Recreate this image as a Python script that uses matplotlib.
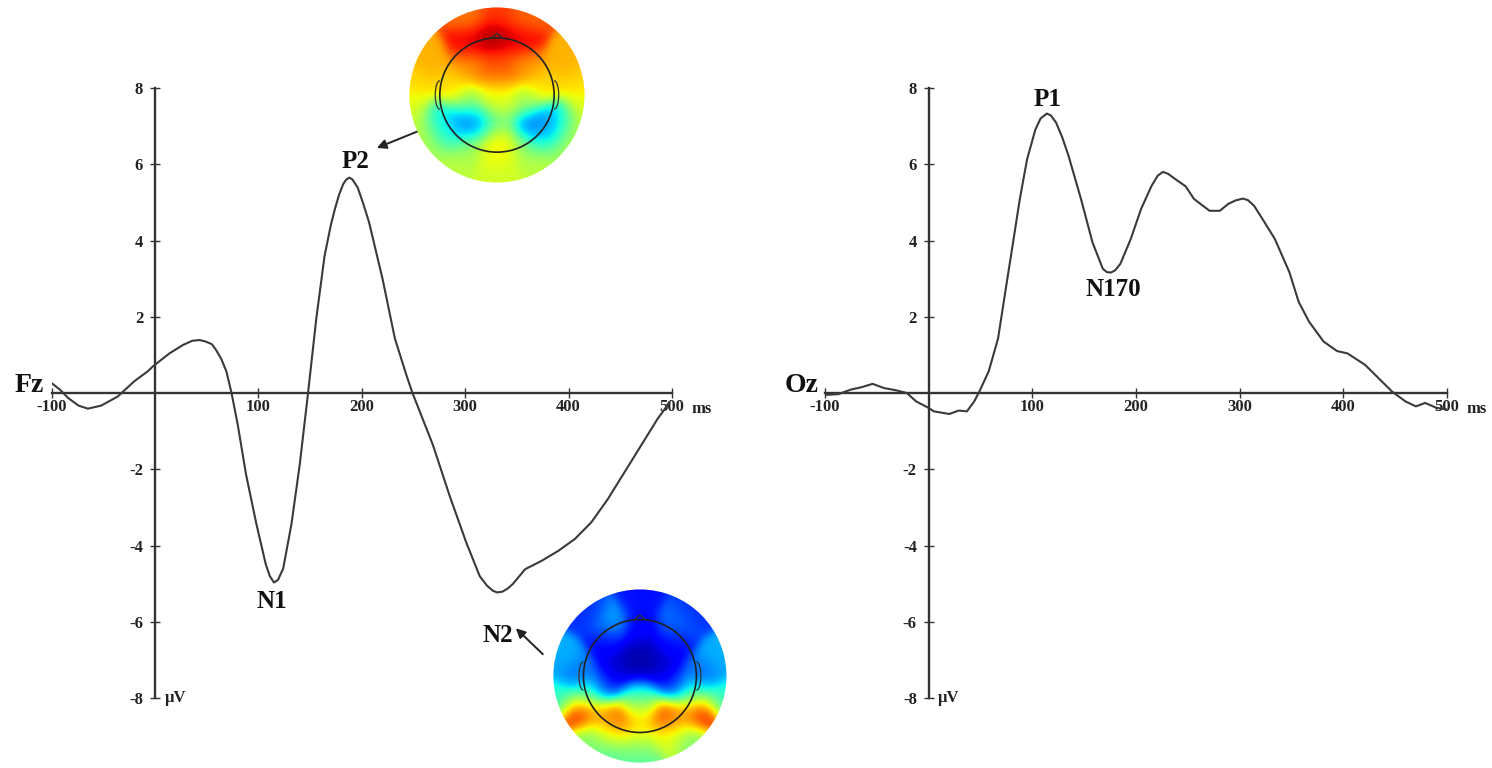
import numpy as np
import matplotlib.pyplot as plt
from matplotlib.patches import Circle, Arc

plt.rcParams['font.family'] = ['Liberation Serif', 'DejaVu Serif']
plt.rcParams['font.weight'] = 'bold'

# Fz waveform (ms, uV)
fz_t = [-100, -92, -84, -74, -65, -52, -36, -20, -7, -2, 14, 27, 36, 43, 49, 55, 59, 64, 69, 74, 80,
        88, 98, 107, 111, 115, 119, 124, 132, 140, 148, 156, 164, 170, 174, 178, 182, 185, 188, 191,
        196, 201, 207, 220, 232, 243, 249, 265, 269, 285, 301, 314, 321, 327, 331, 336, 341, 346,
        358, 374, 390, 406, 422, 438, 454, 470, 486, 493, 497]
fz_v = [0.26, 0.09, -0.13, -0.33, -0.41, -0.33, -0.09, 0.31, 0.57, 0.70, 1.04, 1.26, 1.37, 1.39, 1.35,
        1.28, 1.13, 0.9, 0.57, 0.0, -0.83, -2.13, -3.43, -4.48, -4.8, -4.97, -4.9, -4.6, -3.43,
        -1.87, 0.0, 1.96, 3.6, 4.4, 4.83, 5.2, 5.48, 5.6, 5.65, 5.6, 5.39, 5.0, 4.48, 3.0, 1.43, 0.48,
        0.0, -1.1, -1.38, -2.7, -3.92, -4.8, -5.05, -5.19, -5.23, -5.21, -5.13, -5.01, -4.62, -4.4,
        -4.14, -3.83, -3.39, -2.78, -2.08, -1.38, -0.68, -0.42, -0.25]

# Oz waveform
oz_t = [-100, -87, -75, -65, -54, -43, -31, -21, -12, 0, 5, 20, 29, 37, 44, 49, 58, 67, 75, 82, 88,
        95, 103, 108, 114, 118, 123, 129, 135, 147, 158, 168, 172, 176, 180, 185, 195, 205, 215, 221,
        226, 231, 238, 248, 256, 271, 281, 289, 296, 303, 308, 314, 324, 334, 348, 357, 367, 381, 394,
        404, 421, 434, 447, 460, 470, 479, 490, 500]
oz_v = [-0.05, -0.03, 0.09, 0.15, 0.24, 0.13, 0.07, 0.0, -0.22, -0.39, -0.48, -0.55, -0.46, -0.48,
        -0.22, 0.04, 0.57, 1.43, 2.83, 4.04, 5.09, 6.13, 6.91, 7.2, 7.33, 7.28, 7.09, 6.7, 6.22, 5.09,
        3.96, 3.26, 3.17, 3.16, 3.22, 3.39, 4.04, 4.83, 5.43, 5.7, 5.8, 5.75, 5.61, 5.42, 5.09, 4.78,
        4.78, 4.96, 5.05, 5.1, 5.06, 4.91, 4.48, 4.04, 3.17, 2.39, 1.87, 1.35, 1.1, 1.04, 0.74, 0.39,
        0.04, -0.22, -0.35, -0.26, -0.39, -0.43]

xticks = [-100, 100, 200, 300, 400, 500]
yticks = [-8, -6, -4, -2, 2, 4, 6, 8]

# topographic maps: electrode x, y (head radius = 1) and relative amplitude (0..1 on jet)
p2_x = [0, -0.5, 0.5, -0.1, -0.5, 0.4, 0, 0, -0.5, 0.5, -1.2, 1.2, -1.45, 1.45, -0.8, 0.8,
        0, 0, -0.5, 0.5, -0.55, -0.35, 0.6, 0.85, -1.0, 1.05, -0.85, 0.85, 0, 0, 0, -0.45,
        0.45, 0, -0.8, 0.8, -1.35, 1.35, -1.5, 1.5, -1.2, 1.2]
p2_y = [1.4, 1.35, 1.35, 1.0, 0.9, 0.95, 0.55, 0.3, 0.5, 0.5, 0.6, 0.6, 0.2, 0.2, 0.15, 0.15,
        0, -0.15, -0.15, -0.15, -0.5, -0.5, -0.55, -0.55, -0.45, -0.45, -0.75, -0.8, -0.5, -0.85,
        -1.05, -0.9, -0.9, -1.4, -1.2, -1.2, -0.6, -0.6, -0.2, -0.2, -0.95, -0.95]
p2_val = [0.85, 0.78, 0.8, 0.97, 0.92, 0.92, 0.85, 0.78, 0.75, 0.75, 0.72, 0.72, 0.68, 0.68,
          0.68, 0.68, 0.65, 0.6, 0.55, 0.55, 0.2, 0.28, 0.2, 0.24, 0.35, 0.35, 0.4, 0.4, 0.48,
          0.7, 0.63, 0.55, 0.55, 0.6, 0.58, 0.58, 0.58, 0.58, 0.62, 0.62, 0.56, 0.56]

n2_x = [0, 0, -0.35, 0.35, 0, -0.6, 0.6, -0.53, 0.65, 0, -0.9, 0.9, -1.3, 1.35, -1.1, 1.1,
        -0.6, 0.6, 0, 0, -1.08, 1.08, -0.4, 0.45, 0, -0.7, 0.75, 0, -0.5, 0.5, 0, -0.9, 0.9,
        -1.4, 1.4, 0, -0.55, -0.95, 0.95]
n2_y = [0.15, 0.4, 0.1, 0.1, 0.85, 0.6, 0.6, 0.94, 0.91, 1.35, 1.1, 1.1, 0.3, 0.3, 0, 0,
        -0.2, -0.2, -0.3, -0.45, -0.65, -0.65, -0.75, -0.7, -0.62, -0.7, -0.7, -0.95, -1.05,
        -1.05, -1.3, -1.1, -1.1, -0.4, -0.4, -1.5, -1.4, -0.35, -0.35]
n2_val = [0.02, 0.05, 0.07, 0.07, 0.12, 0.12, 0.12, 0.3, 0.25, 0.14, 0.17, 0.17, 0.3, 0.3,
          0.22, 0.22, 0.18, 0.18, 0.3, 0.5, 0.93, 0.95, 0.85, 0.88, 0.7, 0.72, 0.72, 0.65, 0.62,
          0.62, 0.55, 0.5, 0.5, 0.4, 0.4, 0.42, 0.45, 0.45, 0.45]

fig = plt.figure(figsize=(14.92, 7.68), dpi=100)
ax1 = fig.add_axes([0.0346, 0.0911, 0.4158, 0.7943])
ax2 = fig.add_axes([0.5529, 0.0911, 0.4169, 0.7943])

for ax, t, v, name in [(ax1, fz_t, fz_v, 'Fz'), (ax2, oz_t, oz_v, 'Oz')]:
    ax.plot(t, v, color='#3a3a3a', lw=1.5, zorder=3, solid_joinstyle='round')
    ax.set_xlim(-100, 500)
    ax.set_ylim(-8, 8)
    ax.spines['left'].set_position(('data', 0))
    ax.spines['bottom'].set_position(('data', 0))
    ax.spines['top'].set_visible(False)
    ax.spines['right'].set_visible(False)
    for s in ['left', 'bottom']:
        ax.spines[s].set_linewidth(1.7)
        ax.spines[s].set_color('#333333')
    ax.set_xticks(xticks)
    ax.set_xticklabels([str(x) for x in xticks])
    ax.set_yticks(yticks)
    ax.set_yticklabels([str(y) for y in yticks])
    ax.tick_params(direction='inout', length=7, width=1, color='#333333',
                   labelsize=12, pad=1, labelcolor='#222222')
    ax.tick_params(axis='y', pad=5)
    for lab in ax.get_xticklabels() + ax.get_yticklabels():
        lab.set_fontweight('bold')
    ax.patch.set_alpha(0)
    ax.text(519, -0.2, 'ms', fontsize=12, fontweight='bold', ha='left', va='top',
            color='#222222', clip_on=False)
    ax.text(9, -8, 'μV', fontsize=12, fontweight='bold', ha='left', va='center',
            color='#222222', clip_on=False)
    ax.text(-122, 0.2, name, fontsize=20, fontweight='bold', ha='center', va='center',
            color='#111111', clip_on=False)

lab_kw = dict(fontsize=18, fontweight='bold', ha='center', va='center', color='#111111')
ax1.text(194, 6.08, 'P2', **lab_kw)
ax1.text(113, -5.47, 'N1', **lab_kw)
ax1.text(332, -6.37, 'N2', **lab_kw)
ax2.text(115, 7.7, 'P1', **lab_kw)
ax2.text(178, 2.72, 'N170', **lab_kw)

arr = dict(arrowstyle='-|>', color='#222222', lw=1.4, mutation_scale=14)
ax1.annotate('', xy=(212, 6.4), xytext=(271, 7.05), arrowprops=arr, annotation_clip=False)
ax1.annotate('', xy=(347, -6.12), xytext=(377, -6.9), arrowprops=arr, annotation_clip=False)


def topomap(rect, ex, ey, ev):
    tax = fig.add_axes(rect)
    R = 1.54
    g = np.linspace(-R, R, 300)
    gx, gy = np.meshgrid(g, g)
    ex, ey, ev = np.array(ex), np.array(ey), np.array(ev)
    d2 = (gx[..., None] - ex) ** 2 + (gy[..., None] - ey) ** 2
    w = np.exp(-d2 / (2 * 0.2 ** 2)) + 1e-12
    z = (w * ev).sum(-1) / w.sum(-1)
    im = tax.imshow(z, cmap='jet', vmin=0, vmax=1, origin='lower',
                    extent=[-R, R, -R, R], interpolation='bilinear')
    clip = Circle((0, 0), R * 0.995, transform=tax.transData)
    im.set_clip_path(clip)
    tax.add_patch(Circle((0, 0), 1.0, fill=False, ec='#222222', lw=1.2))
    tax.add_patch(Arc((-1.0, 0.0), 0.16, 0.5, theta1=90, theta2=270, ec='#333333', lw=0.9))
    tax.add_patch(Arc((1.0, 0.0), 0.16, 0.5, theta1=-90, theta2=90, ec='#333333', lw=0.9))
    tax.plot([-0.1, 0, 0.1], [0.995, 1.08, 0.995], color='#333333', lw=0.9)
    tax.set_xlim(-R, R)
    tax.set_ylim(-R, R)
    tax.set_aspect('equal')
    tax.axis('off')


topomap([0.2741, 0.7617, 0.118, 0.2292], p2_x, p2_y, p2_val)
topomap([0.3706, 0.0065, 0.1166, 0.2266], n2_x, n2_y, n2_val)

plt.savefig('out.png', dpi=100)
